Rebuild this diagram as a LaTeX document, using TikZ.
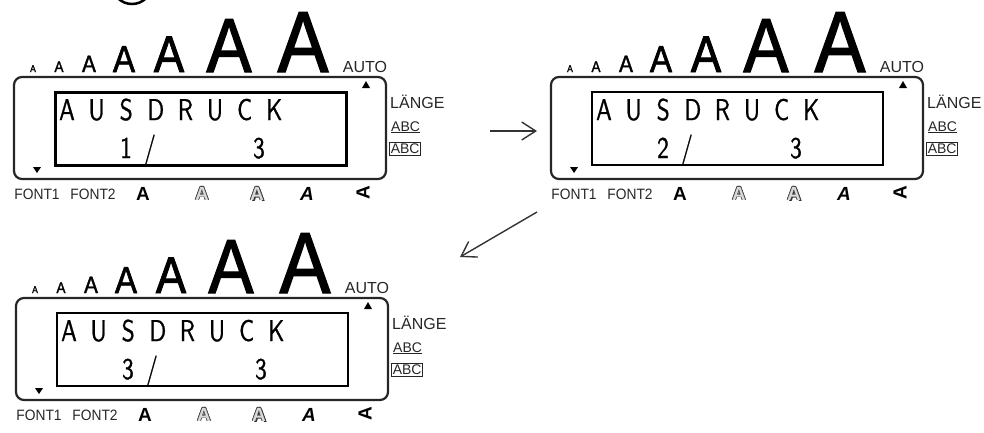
\documentclass[tikz,border=0pt]{standalone}
\usepackage{fontspec}
\setmainfont{Liberation Sans}
\newfontfamily\lcdfont[Extension=.otf, FakeStretch=0.78, FakeBold=0.8]{lmsans10-regular}
\newfontfamily\labelfont[FakeStretch=0.92]{Liberation Sans}
\newfontfamily\bigfont[FakeStretch=0.88, FakeBold=1.6]{Liberation Sans}
\usetikzlibrary{arrows.meta}

\newcommand{\fsize}[1]{\fontsize{#1}{#1}\selectfont}

\tikzset{
  panel/.style={line width=2.2pt, rounded corners=8pt, black!85},
  lcd/.style={font=\lcdfont\fsize{30}, anchor=base, inner sep=0pt},
  bigA/.style={anchor=base, inner sep=0pt},
  tag/.style={font=\fsize{16}, anchor=base, inner sep=0pt, black!85},
  fonttag/.style={font=\labelfont\fsize{15}, anchor=base, inner sep=0pt, black!85},
  symA/.style={font=\bfseries\fsize{19}, anchor=base, inner sep=0pt},
  marker/.style={fill=black},
  arr/.style={-{Straight Barb[length=14pt,width=18pt]}, line width=1.4pt, black!80}
}

% hollow letter: name, x, y
\newcommand{\hollowA}[3]{%
  \foreach \ang in {0,45,...,315}
    \node[symA, text=black!75] at ([shift={(\ang:0.8)}]#2,#3) {A};
  \node[symA, text=black!15] (#1) at (#2,#3) {A};}

% one display: name, x, y, page, width of the inner frame
\newcommand{\lcdpanel}[5]{%
  \begin{scope}[shift={(#2,#3)}]
    \draw[panel] (0,0) rectangle (372,102);
    \draw[line width=#5] (41,15) rectangle (332,88);
    % size row
    \foreach \ax/\fs [count=\i] in {19/9.8, 45/15.4, 75/23.7, 110/37.7,
                                    155/51.7, 215/76.8, 289/86.6}
      \node[bigA, font=\bigfont\fsize{\fs}] (#1-a\i) at (\ax,-5) {A};
    \node[tag] (#1-auto) at (351,-5) {AUTO};
    \fill[marker] (348,11) -- (356,11) -- (352,4) -- cycle;
    \fill[marker] (19,90) -- (27,90) -- (23,96) -- cycle;
    % text on the display
    \foreach \c [count=\i from 0] in {A,U,S,D,R,U,C,K}
      \node[lcd] (#1-c\i) at ({53+29.6*\i},43) {\c};
    \node[lcd] (#1-page) at (112,81) {#4};
    \node[lcd] (#1-sl) at (136,80) {/};
    \node[lcd] (#1-tot) at (245,81) {3};
    % right side
    \node[tag, anchor=base west] (#1-len) at (376,31) {LÄNGE};
    \node[tag, anchor=base west, font=\fsize{14}] (#1-ul) at (377,54) {\underline{ABC}};
    \node[draw, line width=0.9pt, inner sep=1.3pt, font=\fsize{14}, black!85, anchor=west] (#1-box) at (375,72) {ABC};
    % bottom row
    \node[fonttag] (#1-f1) at (23,122) {FONT1};
    \node[fonttag] (#1-f2) at (79,122) {FONT2};
    \node[symA] (#1-bold) at (129,123) {A};
    \hollowA{#1-out}{188}{123}
    \node[symA, text=black!80] at (244.5,124.5) {A};
    \hollowA{#1-shd}{243}{123}
    \node[symA, font=\bfseries\itshape\fsize{19}] (#1-ital) at (293,123) {A};
    \node[symA, anchor=center, rotate=90] (#1-vert) at (349,116) {A};
  \end{scope}}

\begin{document}
\begin{tikzpicture}[x=1pt, y=-1pt]
  \useasboundingbox (0,0) rectangle (984,432);
  \draw[line width=2.5pt] (132,-16) circle[radius=20];

  \lcdpanel{p1}{14}{77}{1}{3pt}
  \lcdpanel{p2}{551}{77}{2}{1.8pt}
  \lcdpanel{p3}{16}{298}{3}{2.6pt}

  \coordinate (r1) at (490,131);
  \coordinate (r2) at (537,131);
  \coordinate (d1) at (537,212);
  \coordinate (d2) at (460,257);
  \draw[arr] (r1) -- (r2);
  \draw[arr] (d1) -- (d2);
\end{tikzpicture}
\end{document}
